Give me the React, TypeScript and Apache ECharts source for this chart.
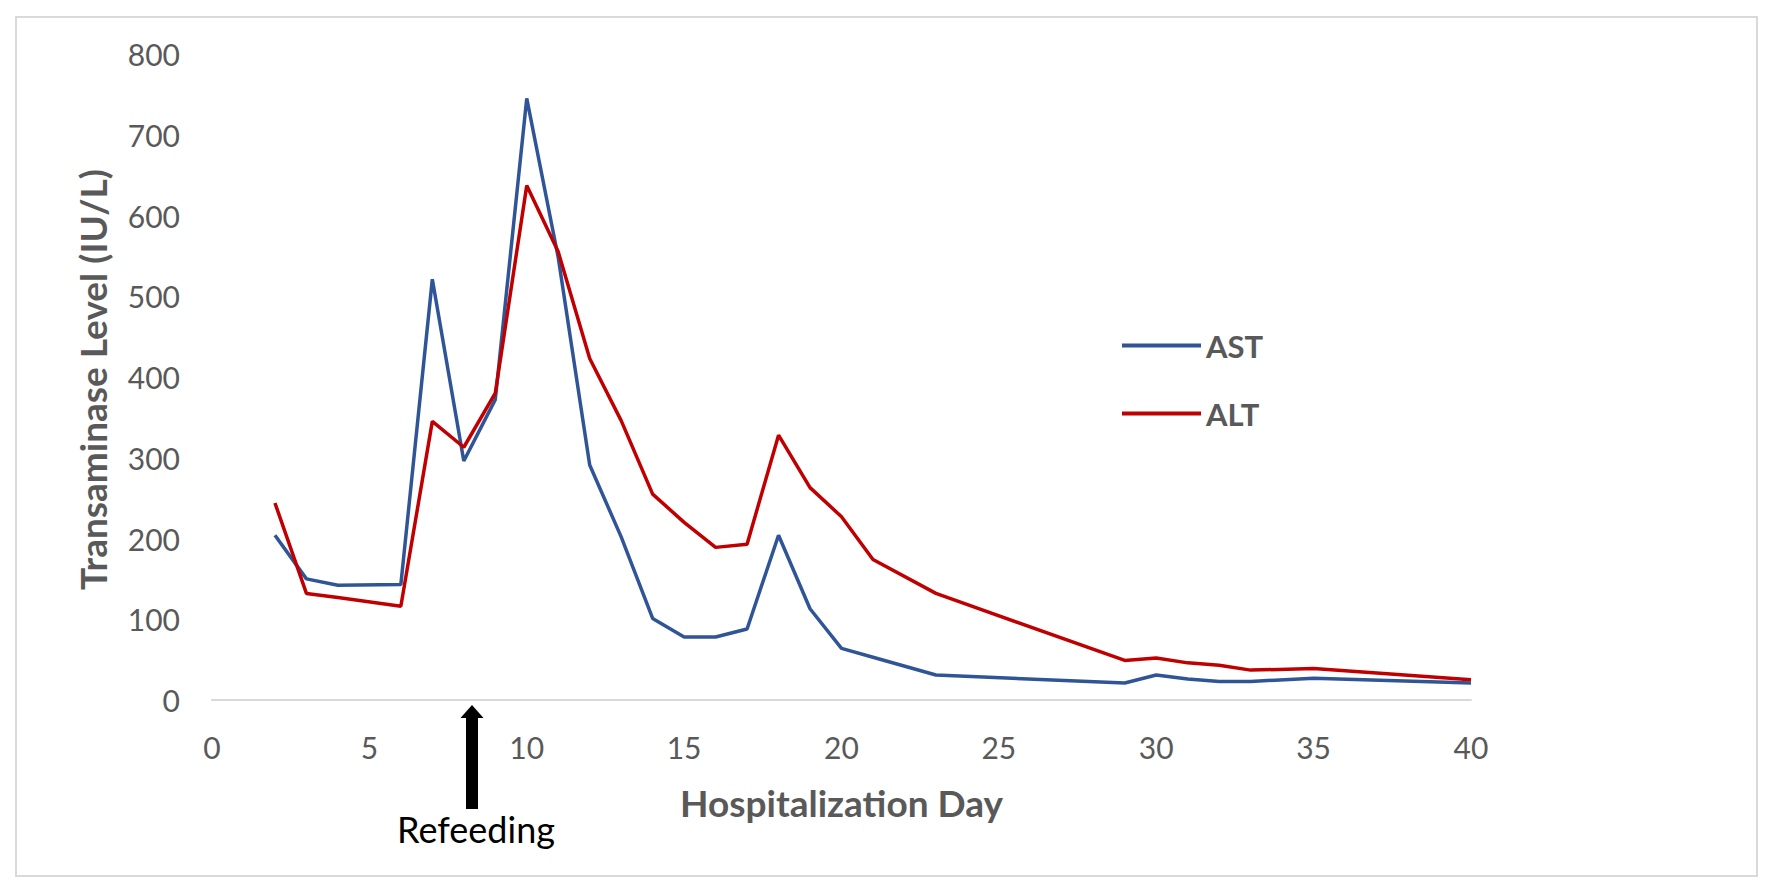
import React, { useEffect, useRef } from "react";
import * as echarts from "echarts";

const days = [2, 3, 4, 6, 7, 8, 9, 10, 11, 12, 13, 14, 15, 16, 17, 18, 19, 20, 21, 23, 29, 30, 31, 32, 33, 35, 40];
const astValues = [204, 150, 142, 143, 521, 296, 372, 745, 548, 291, 202, 101, 78, 78, 88, 204, 113, 64, 53, 31, 21, 31, 26, 23, 23, 27, 21];
const altValues = [244, 132, 127, 116, 345, 313, 380, 637, 555, 423, 346, 255, 220, 189, 193, 328, 263, 227, 174, 132, 49, 52, 46, 43, 37, 39, 25];
const xTicks = { min: 0, max: 40, interval: 5 };
const yTicks = { min: 0, max: 800, interval: 100 };

const FONT = "Lato, 'Open Sans', sans-serif";
const GRAY = "#595959";
const AST_COLOR = "#2F5597";
const ALT_COLOR = "#C00000";

export default function App() {
  const ref = useRef<HTMLDivElement>(null);
  useEffect(() => {
    const chart = echarts.init(ref.current!, null, { renderer: "svg" });
    const ast = days.map((d, i) => [d, astValues[i]]);
    const alt = days.map((d, i) => [d, altValues[i]]);
    chart.setOption({
      animation: false,
      backgroundColor: "#ffffff",
      textStyle: { fontFamily: FONT },
      grid: { left: 212, right: 301, top: 54, bottom: 190, containLabel: false },
      legend: {
        orient: "vertical",
        left: 1117,
        top: 325,
        itemWidth: 79,
        itemHeight: 4,
        itemGap: 37,
        data: [
          { name: "AST", icon: "rect", itemStyle: { color: AST_COLOR } },
          { name: "ALT", icon: "rect", itemStyle: { color: ALT_COLOR } },
        ],
        textStyle: { color: GRAY, fontSize: 31, lineHeight: 31, fontWeight: "bold", fontFamily: FONT },
      },
      xAxis: {
        type: "value",
        min: xTicks.min,
        max: xTicks.max,
        interval: xTicks.interval,
        name: "Hospitalization Day",
        nameLocation: "middle",
        nameGap: 84,
        nameTextStyle: { color: GRAY, fontSize: 37, fontWeight: "bold", fontFamily: FONT },
        axisLine: { show: true, lineStyle: { color: "#d9d9d9", width: 2 } },
        axisTick: { show: false },
        splitLine: { show: false },
        axisLabel: { color: GRAY, fontSize: 30, margin: 32, fontFamily: FONT },
      },
      yAxis: {
        type: "value",
        min: yTicks.min,
        max: yTicks.max,
        interval: yTicks.interval,
        name: "Transaminase Level (IU/L)",
        nameLocation: "middle",
        nameGap: 101,
        nameRotate: 90,
        nameTextStyle: { color: GRAY, fontSize: 37, fontWeight: "bold", fontFamily: FONT, padding: [0, 5, 0, 0] },
        axisLine: { show: false },
        axisTick: { show: false },
        splitLine: { show: false },
        axisLabel: { color: GRAY, fontSize: 30, margin: 32, fontFamily: FONT },
      },
      series: [
        {
          name: "AST",
          type: "line",
          data: ast,
          showSymbol: false,
          symbol: "none",
          lineStyle: { color: AST_COLOR, width: 3.5 },
          itemStyle: { color: AST_COLOR },
        },
        {
          name: "ALT",
          type: "line",
          data: alt,
          showSymbol: false,
          symbol: "none",
          lineStyle: { color: ALT_COLOR, width: 3.5 },
          itemStyle: { color: ALT_COLOR },
        },
      ],
      graphic: [
        {
          type: "rect",
          shape: { x: 16, y: 17, width: 1741, height: 859 },
          style: { fill: "none", stroke: "#d9d9d9", lineWidth: 2 },
          silent: true,
        },
        {
          type: "polygon",
          shape: { points: [[472, 705], [460.5, 718], [483.5, 718]] },
          style: { fill: "#000000" },
        },
        {
          type: "rect",
          shape: { x: 466, y: 716, width: 12, height: 93 },
          style: { fill: "#000000" },
        },
        {
          type: "text",
          x: 476,
          y: 829,
          style: {
            text: "Refeeding",
            fill: "#000000",
            font: "36px " + FONT,
            align: "center",
            verticalAlign: "middle",
          },
        },
      ],
    });
    return () => chart.dispose();
  }, []);
  return (
    <div
      ref={ref}
      style={{ position: "fixed", left: 0, top: 0, width: 1772, height: 890, background: "#fff" }}
    />
  );
}
